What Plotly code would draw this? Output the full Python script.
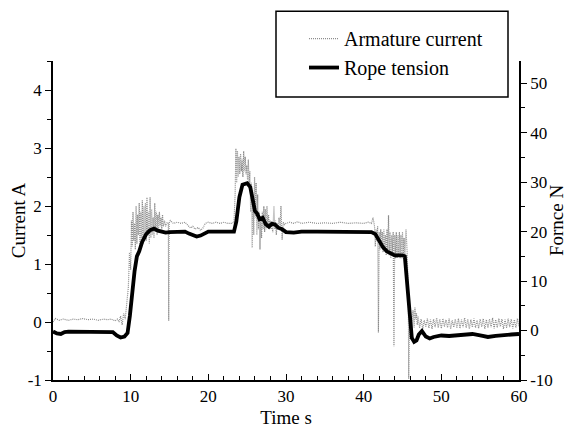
import plotly.graph_objects as go

# ---------------- data ----------------
# Rope tension (N), right axis
tension_t = [0, 0.5, 1.0, 1.5, 2, 3, 4, 5, 6, 7, 7.7, 8.2, 8.7, 9.2, 9.6, 9.9, 10.2, 10.5, 10.8,
             11.1, 11.5, 12.0, 12.5, 13, 13.5, 14, 14.5, 15, 16, 17, 17.5, 18, 18.5, 19, 19.5,
             20, 21, 22, 23, 23.3, 23.6, 24.0, 24.4, 25.0, 25.4, 25.7, 26.0, 26.3, 26.6, 27.0,
             27.4, 27.8, 28.2, 28.6, 29.0, 29.5, 30, 31, 32, 34, 36, 38, 40, 41, 41.5, 42, 42.5,
             43, 43.5, 44, 44.5, 45, 45.3, 45.6, 45.9, 46.2, 46.5, 46.8, 47.1, 47.5, 48, 48.5,
             49, 50, 51, 52, 53, 54, 55, 56, 57, 58, 59, 60]
tension_n = [-0.2, -0.6, -0.7, -0.3, -0.2, -0.2, -0.2, -0.2, -0.2, -0.2, -0.3, -1.0, -1.4, -1.2,
             -0.5, 3, 8, 12, 15, 16, 18, 19.5, 20.3, 20.6, 20.2, 20.0, 19.8, 19.9, 20.0, 20.0,
             19.6, 19.2, 19.0, 19.2, 19.7, 20.0, 20.0, 20.0, 20.0, 20.0, 22, 27, 29.5, 29.8,
             29.0, 26, 24.2, 23.6, 22.5, 22.8, 21.5, 21.0, 21.6, 21.4, 20.8, 20.5, 19.9, 19.8,
             20.0, 20.0, 20.0, 19.9, 19.9, 19.9, 19.5, 18.0, 16.8, 16.0, 15.5, 15.2, 15.2, 15.2,
             15.0, 10, 3, -1.5, -2.3, -2.0, -0.8, -0.1, -1.2, -1.6, -1.3, -1.0, -1.1, -1.0, -0.9,
             -0.7, -1.0, -1.3, -1.1, -0.9, -0.8, -0.7]

# Armature current (A), left axis
current_t = [
    0.0, 0.3, 0.8, 1.3, 2.0, 2.6, 3.2, 3.8, 4.5, 5.2, 5.8, 6.5, 7.0, 7.5, 8.0, 8.3,
    8.5, 8.7, 8.9, 9.1, 9.3, 9.5, 9.7, 9.85, 10.0, 10.1, 10.2, 10.3, 10.4, 10.5, 10.6, 10.7,
    10.8, 10.9, 11.0, 11.1, 11.2, 11.3, 11.4, 11.5, 11.6, 11.7, 11.8, 11.9, 12.0, 12.1, 12.2,
    12.3, 12.4, 12.5, 12.6, 12.7, 12.8, 12.9, 13.0, 13.1, 13.2, 13.3, 13.4, 13.5, 13.6, 13.7,
    13.8, 13.9, 14.0, 14.1, 14.2, 14.35, 14.5, 14.7, 14.85, 14.9, 14.95, 15.1,
    15.5, 16.0, 16.5, 17.0, 17.3, 17.7, 18.0, 18.3, 18.7, 19.0, 19.3, 19.6, 20.0, 20.5, 21.0,
    21.5, 22.0, 22.5, 23.0,
    23.3, 23.45, 23.55, 23.65, 23.75, 23.85, 23.95, 24.05, 24.15, 24.25, 24.35, 24.45, 24.55,
    24.65, 24.75, 24.85, 24.95, 25.05, 25.15, 25.25, 25.35, 25.45, 25.55, 25.65, 25.75, 25.85,
    25.95, 26.05, 26.15, 26.25, 26.35, 26.45, 26.55, 26.65, 26.75, 26.85, 26.95, 27.05, 27.15,
    27.25, 27.35, 27.45, 27.55, 27.65, 27.75, 27.85, 27.95, 28.05, 28.15, 28.3, 28.45, 28.55,
    28.65, 28.75, 28.85, 28.95, 29.1, 29.25, 29.35, 29.5, 29.65, 29.8, 30.0,
    30.5, 31, 31.5, 32, 33, 34, 35, 36, 37, 38, 39, 40, 40.6, 41.0, 41.2, 41.3,
    41.4, 41.5, 41.6, 41.7, 41.8, 41.9, 42.0, 42.1, 42.2, 42.3, 42.4, 42.5, 42.6, 42.7, 42.8,
    42.9, 43.0, 43.1, 43.2, 43.3, 43.4, 43.5, 43.6, 43.7, 43.8, 43.9, 44.0, 44.1, 44.2, 44.3,
    44.4, 44.5, 44.6, 44.7, 44.8, 44.9, 45.0, 45.1, 45.2, 45.3, 45.45, 45.6, 45.75, 45.8, 45.9,
    46.0, 46.1, 46.2, 46.35, 46.5, 46.6, 46.7, 46.8, 46.9, 47.0,
    47.2, 47.4, 47.6, 47.8, 48.0, 48.2, 48.4, 48.6, 48.8, 49.0, 49.2, 49.4, 49.6, 49.8, 50.0,
    50.2, 50.4, 50.6, 50.8, 51.0, 51.2, 51.4, 51.6, 51.8, 52.0, 52.2, 52.4, 52.6, 52.8, 53.0,
    53.2, 53.4, 53.6, 53.8, 54.0, 54.2, 54.4, 54.6, 54.8, 55.0, 55.2, 55.4, 55.6, 55.8, 56.0,
    56.2, 56.4, 56.6, 56.8, 57.0, 57.2, 57.4, 57.6, 57.8, 58.0, 58.2, 58.4, 58.6, 58.8, 59.0,
    59.2, 59.4, 59.6, 59.8, 60.0]
current_a = [
    0.0, 0.06, 0.03, 0.05, 0.03, 0.05, 0.04, 0.06, 0.04, 0.05, 0.03, 0.05, 0.04, 0.05, 0.02, 0.05,
    0.0, 0.1, -0.05, 0.15, 0.05, 0.35, 0.6, 1.2, 0.9, 1.75, 1.3, 1.9, 1.4, 1.7, 1.25, 2.0,
    1.35, 1.85, 1.5, 2.05, 1.3, 1.9, 1.45, 2.1, 1.35, 2.0, 1.5, 2.05, 1.4, 2.15, 1.5,
    1.9, 1.35, 2.15, 1.45, 1.95, 1.5, 1.8, 1.45, 2.05, 1.55, 1.9, 1.5, 1.85, 1.6, 1.9,
    1.65, 1.8, 1.6, 1.85, 1.65, 1.75, 1.65, 1.72, 1.7, 0.02, 1.7, 1.75,
    1.7, 1.72, 1.7, 1.72, 1.68, 1.62, 1.65, 1.6, 1.63, 1.58, 1.62, 1.7, 1.72, 1.7, 1.72,
    1.7, 1.72, 1.7, 1.7,
    1.72, 2.2, 2.99, 2.4, 2.95, 2.5, 2.85, 2.55, 2.9, 2.6, 2.8, 2.5, 2.95,
    2.6, 2.85, 2.55, 2.7, 2.45, 2.8, 2.4, 2.6, 1.9, 2.4, 1.28, 2.1, 1.5,
    2.5, 1.8, 2.4, 1.5, 2.2, 1.6, 1.9, 1.25, 1.8, 1.45, 1.9, 1.6, 2.0,
    1.55, 1.95, 1.6, 2.0, 1.65, 1.85, 1.6, 1.75, 1.6, 1.7, 1.55, 2.0, 1.6,
    1.75, 1.5, 1.7, 1.6, 1.8, 1.65, 2.0, 1.42, 1.72, 1.68, 1.7,
    1.72, 1.7, 1.73, 1.7, 1.72, 1.7, 1.71, 1.7, 1.72, 1.7, 1.71, 1.7, 1.72, 1.7, 1.8, 1.68,
    1.65, 1.3, 1.6, 1.4, 1.65, -0.18, 1.55, 1.25, 1.6, 1.3, 1.55, 1.2, 1.6, 1.25, 1.5,
    1.15, 1.6, 1.2, 1.84, 1.15, 1.55, 1.1, 1.5, 1.15, 1.55, -0.42, 1.5, 1.1, 1.55, 1.1,
    1.5, 1.15, 1.55, 1.1, 1.5, 1.1, 1.55, 1.1, 1.45, 1.1, 1.6, 1.2, 0.5, -0.98, 0.3,
    -0.3, 0.1, -0.2, 0.2, -0.1, 0.25, 0.05, 0.15, -0.05, 0.1,
    -0.1, 0.05, -0.12, 0.03, -0.08, 0.06, -0.1, 0.04, -0.12, 0.05, -0.09, 0.07, -0.1, 0.05, -0.11,
    0.06, -0.08, 0.04, -0.1, 0.06, -0.12, 0.03, -0.09, 0.05, -0.1, 0.06, -0.11, 0.04, -0.09, 0.07,
    -0.1, 0.05, -0.12, 0.04, -0.09, 0.06, -0.1, 0.03, -0.11, 0.05, -0.08, 0.06, -0.12, 0.04, -0.1,
    0.05, -0.09, 0.07, -0.11, 0.04, -0.1, 0.06, -0.08, 0.05, -0.12, 0.04, -0.1, 0.06, -0.09, 0.05,
    -0.11, 0.04, -0.1, 0.06, -0.08]

x_ticks = [0, 10, 20, 30, 40, 50, 60]
left_ticks = [-1, 0, 1, 2, 3, 4]
left_labels = ["-1", "0", "1", "2", "3", "4"]
right_ticks = [-10, 0, 10, 20, 30, 40, 50]
right_labels = ["-10", "0", "10", "20", "30", "40", "50"]

FONT = "Liberation Serif"

fig = go.Figure()
fig.add_trace(go.Scatter(
    x=current_t, y=current_a, mode="lines", name="Armature current",
    line=dict(color="#8c8c8c", width=1.2, dash="1px,1px"), yaxis="y", legendgroup="a"))
fig.add_trace(go.Scatter(
    x=tension_t, y=tension_n, mode="lines", name="Rope tension",
    line=dict(color="black", width=3.8), yaxis="y2", legendgroup="b"))

axis_common = dict(showgrid=False, zeroline=False, showline=True, linecolor="black",
                   linewidth=1.5, tickcolor="black", tickwidth=1.2, automargin=False,
                   tickfont=dict(family=FONT, size=17, color="black"))

# page has an 8 px body margin, so figure coords = page coords - 8
fig.update_layout(
    width=559, height=421,
    margin=dict(l=45, r=48, t=52, b=49),
    paper_bgcolor="white", plot_bgcolor="white",
    font=dict(family=FONT, color="black"),
    xaxis=dict(range=[0, 60], tickvals=x_ticks, ticks="inside", ticklen=6,
               minor=dict(dtick=2, tick0=0, ticks="inside", ticklen=4, tickcolor="black"),
               title=dict(text="Time s", font=dict(family=FONT, size=19), standoff=6),
               **axis_common),
    yaxis=dict(range=[-1, 4.5], tickvals=left_ticks, ticktext=left_labels,
               ticks="outside", ticklen=6,
               minor=dict(dtick=0.5, tick0=0, ticks="outside", ticklen=4, tickcolor="black"),
               title=dict(text="Current A", font=dict(family=FONT, size=19), standoff=2),
               **axis_common),
    yaxis2=dict(range=[-10, 54.5], tickvals=right_ticks, ticktext=right_labels,
                overlaying="y", side="right", anchor="x",
                ticks="outside", ticklen=6,
                minor=dict(dtick=5, tick0=0, ticks="outside", ticklen=4, tickcolor="black"),
                title=dict(text="Fornce N", font=dict(family=FONT, size=19), standoff=0),
                **axis_common),
    showlegend=True,
    legend=dict(x=0.5386, y=1.128, xanchor="left", yanchor="top",
                bgcolor="rgba(0,0,0,0)", borderwidth=0,
                font=dict(family=FONT, size=20, color="black"),
                tracegroupgap=6, traceorder="normal"),
    shapes=[dict(type="rect", xref="paper", yref="paper",
                 x0=(268 - 45) / 466, x1=(500 - 45) / 466,
                 y0=(372 - 88) / 320, y1=(372 - 2) / 320,
                 line=dict(color="black", width=1.5), fillcolor="white", layer="above")],
)

fig.write_html("out.html")
